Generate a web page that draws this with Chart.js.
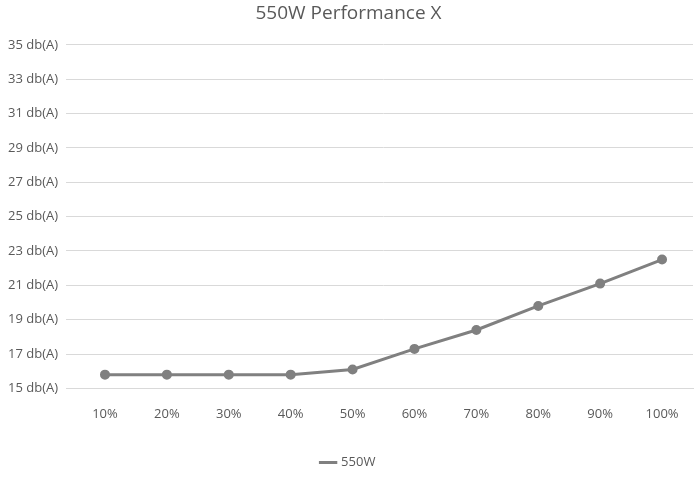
<!DOCTYPE html>
<html>
<head>
<meta charset="utf-8">
<script src="https://cdn.jsdelivr.net/npm/chart.js@4/dist/chart.umd.min.js"></script>
<style>
  html, body { margin: 0; padding: 0; background: #fff; }
  #wrap { width: 700px; height: 481px; }
</style>
</head>
<body>
<div id="wrap"><canvas id="chart" width="700" height="481"></canvas></div>
<script>
var loads = ['10%','20%','30%','40%','50%','60%','70%','80%','90%','100%'];
var noise550 = [15.8, 15.8, 15.8, 15.8, 16.1, 17.3, 18.4, 19.8, 21.1, 22.5];

var ctx = document.getElementById('chart');
var chart = new Chart(ctx, {
  type: 'line',
  data: {
    labels: loads,
    datasets: [{
      label: '550W',
      data: noise550,
      borderColor: '#808080',
      backgroundColor: '#808080',
      pointBackgroundColor: '#808080',
      pointBorderColor: '#808080',
      borderWidth: 3,
      pointRadius: 3.5,
      tension: 0
    }]
  },
  options: {
    responsive: false,
    animation: false,
    layout: { padding: { left: 0, right: 3, top: 0, bottom: 2 } },
    plugins: {
      title: {
        display: true,
        text: '550W Performance X',
        color: '#595959',
        font: { family: 'Open Sans', size: 19, weight: 'normal' },
        padding: { top: 2, bottom: 20 }
      },
      legend: {
        position: 'bottom',
        labels: {
          usePointStyle: true,
          pointStyle: 'line',
          color: '#595959',
          font: { family: 'Open Sans', size: 13 },
          padding: 24
        }
      }
    },
    scales: {
      x: {
        offset: true,
        grid: { display: false },
        border: { color: '#d9d9d9' },
        ticks: { color: '#595959', font: { family: 'Open Sans', size: 13 }, padding: 10 }
      },
      y: {
        min: 15,
        max: 35,
        grid: { color: '#d9d9d9' },
        border: { display: false },
        ticks: {
          stepSize: 2,
          padding: 8,
          color: '#595959',
          font: { family: 'Open Sans', size: 13 },
          callback: function (v) { return v + ' db(A)'; }
        }
      }
    }
  }
});
</script>
</body>
</html>
